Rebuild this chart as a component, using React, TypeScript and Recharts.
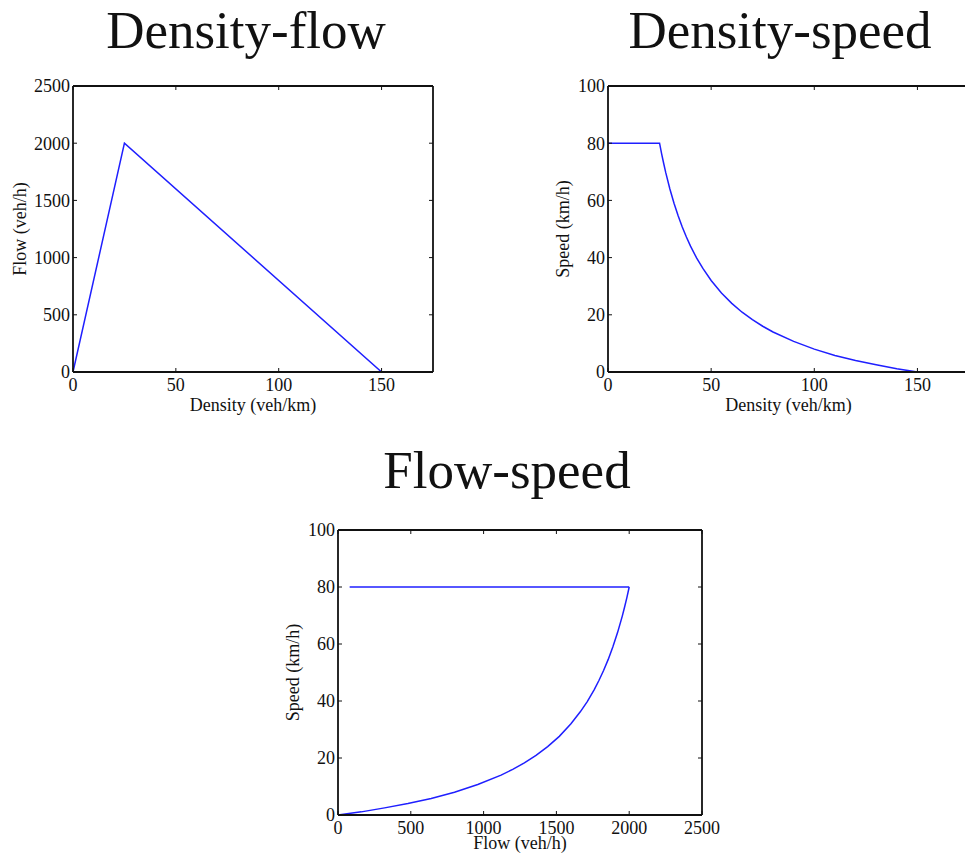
import { LineChart, Line, XAxis, YAxis } from "recharts";

// density-flow (triangular fundamental diagram)
const dfDensity = [0, 25, 150];
const dfFlow = [0, 2000, 0];

// density-speed
const dsDensity = [0, 25, 26, 27, 28, 30, 32, 34, 36, 38, 40, 43, 46, 50, 55, 60, 65, 70, 75, 80, 90, 100, 110, 120, 130, 140, 150];
const dsSpeed = [80, 80, 76.3, 72.9, 69.7, 64, 59, 54.6, 50.7, 47.2, 44, 39.8, 36.2, 32, 27.6, 24, 20.9, 18.3, 16, 14, 10.7, 8, 5.8, 4, 2.5, 1.1, 0];

// flow-speed, free-flow branch
const fsFreeFlow = [80, 2000];
const fsFreeSpeed = [80, 80];
// flow-speed, congested branch
const fsCongFlow = [2000, 1984, 1968, 1952, 1920, 1888, 1856, 1824, 1792, 1760, 1712, 1664, 1600, 1520, 1440, 1360, 1280, 1200, 1120, 960, 800, 640, 480, 320, 160, 0];
const fsCongSpeed = [80, 76.3, 72.9, 69.7, 64, 59, 54.6, 50.7, 47.2, 44, 39.8, 36.2, 32, 27.6, 24, 20.9, 18.3, 16, 14, 10.7, 8, 5.8, 4, 2.5, 1.1, 0];

const densityTicks = [0, 50, 100, 150];
const flowTicks = [0, 500, 1000, 1500, 2000, 2500];
const speedTicks = [0, 20, 40, 60, 80, 100];

const zip = (xs: number[], ys: number[]) => xs.map((x, i) => ({ x, y: ys[i] }));

const FONT = "'Liberation Serif', 'Times New Roman', serif";
const LINE = "#1f1fff";
const AXIS = "#111";
const TICK_LEN = 4;
const X_GAP = 6; // axis -> top of x tick label
const Y_GAP = 3; // axis -> right end of y tick label

// matlab-like ticks: short marks pointing into the box
const makeTick = (side: "bottom" | "left" | "top" | "right") => (props: any) => {
  const { x, y, payload } = props;
  if (side === "bottom") {
    const ay = y - X_GAP;
    return (
      <g>
        <line x1={x} y1={ay} x2={x} y2={ay - TICK_LEN} stroke={AXIS} strokeWidth={1} />
        <text x={x} y={y} dy="0.71em" textAnchor="middle" fontSize={18} fontFamily={FONT} fill="#111">
          {payload.value}
        </text>
      </g>
    );
  }
  if (side === "left") {
    const ax = x + Y_GAP;
    return (
      <g>
        <line x1={ax} y1={y} x2={ax + TICK_LEN} y2={y} stroke={AXIS} strokeWidth={1} />
        <text x={x} y={y} dy="0.35em" textAnchor="end" fontSize={18} fontFamily={FONT} fill="#111">
          {payload.value}
        </text>
      </g>
    );
  }
  if (side === "top") {
    return <line x1={x} y1={y} x2={x} y2={y + TICK_LEN} stroke={AXIS} strokeWidth={1} />;
  }
  return <line x1={x} y1={y} x2={x - TICK_LEN} y2={y} stroke={AXIS} strokeWidth={1} />;
};

const labelStyle = { fontSize: 18, fill: "#111", fontFamily: FONT };

interface PanelProps {
  series: { x: number; y: number }[][];
  xDomain: [number, number];
  yDomain: [number, number];
  xTicks: number[];
  yTicks: number[];
  xLabel: string;
  yLabel: string;
  width: number;
  height: number;
  rightMargin: number;
  yLabelOffset: number;
  xLabelOffset: number;
}

function Panel({ series, xDomain, yDomain, xTicks, yTicks, xLabel, yLabel, width, height, rightMargin, yLabelOffset, xLabelOffset }: PanelProps) {
  return (
    <LineChart width={width} height={height} margin={{ top: 9, right: rightMargin, bottom: 0, left: 0 }}>
      <XAxis
        type="number"
        dataKey="x"
        domain={xDomain}
        ticks={xTicks}
        allowDataOverflow
        height={50}
        stroke={AXIS}
        axisLine={{ stroke: AXIS, strokeWidth: 1.8 }}
        tickLine={false}
        tickSize={0}
        tickMargin={X_GAP}
        tick={makeTick("bottom")}
        label={{ value: xLabel, position: "insideBottom", offset: xLabelOffset, style: labelStyle }}
      />
      <XAxis
        xAxisId="top"
        orientation="top"
        type="number"
        dataKey="x"
        domain={xDomain}
        ticks={xTicks}
        allowDataOverflow
        height={1}
        stroke={AXIS}
        axisLine={{ stroke: AXIS, strokeWidth: 1.8 }}
        tickLine={false}
        tickSize={0}
        tickMargin={0}
        tick={makeTick("top")}
      />
      <YAxis
        type="number"
        dataKey="y"
        domain={yDomain}
        ticks={yTicks}
        allowDataOverflow
        width={73}
        stroke={AXIS}
        axisLine={{ stroke: AXIS, strokeWidth: 1.8 }}
        tickLine={false}
        tickSize={0}
        tickMargin={Y_GAP}
        tick={makeTick("left")}
        label={{ value: yLabel, angle: -90, position: "insideLeft", offset: yLabelOffset, style: { ...labelStyle, textAnchor: "middle" } }}
      />
      <YAxis
        yAxisId="right"
        orientation="right"
        type="number"
        dataKey="y"
        domain={yDomain}
        ticks={yTicks}
        allowDataOverflow
        width={1}
        stroke={AXIS}
        axisLine={{ stroke: AXIS, strokeWidth: 1.8 }}
        tickLine={false}
        tickSize={0}
        tickMargin={0}
        tick={makeTick("right")}
      />
      {series.map((d, i) => (
        <Line
          key={i}
          data={d}
          dataKey="y"
          type="linear"
          stroke={LINE}
          strokeWidth={1.5}
          dot={false}
          activeDot={false}
          isAnimationActive={false}
        />
      ))}
      {/* invisible copy tied to the top/right axes so they get a domain */}
      <Line
        data={series[0]}
        dataKey="y"
        xAxisId="top"
        yAxisId="right"
        stroke="none"
        dot={false}
        activeDot={false}
        isAnimationActive={false}
      />
    </LineChart>
  );
}

const titleStyle = (left: number, top: number, w: number) => ({
  position: "absolute" as const,
  left,
  top,
  width: w,
  textAlign: "center" as const,
  fontFamily: FONT,
  fontSize: 53,
  lineHeight: "53px",
  color: "#111",
  whiteSpace: "nowrap" as const,
});

export default function App() {
  return (
    <div style={{ position: "absolute", left: 0, top: 0, width: 965, height: 854, overflow: "hidden", background: "#fff" }}>
      <div style={titleStyle(46, 4, 400)}>Density-flow</div>
      <div style={titleStyle(580, 4, 400)}>Density-speed</div>
      <div style={titleStyle(307, 444, 400)}>Flow-speed</div>

      <div style={{ position: "absolute", left: 0, top: 76 }}>
        <Panel
          series={[zip(dfDensity, dfFlow)]}
          xDomain={[0, 175]}
          yDomain={[0, 2500]}
          xTicks={densityTicks}
          yTicks={flowTicks}
          xLabel="Density (veh/km)"
          yLabel="Flow (veh/h)"
          width={454}
          height={346}
          rightMargin={20}
          yLabelOffset={20}
          xLabelOffset={11}
        />
      </div>

      <div style={{ position: "absolute", left: 535, top: 76 }}>
        <Panel
          series={[zip(dsDensity, dsSpeed)]}
          xDomain={[0, 175]}
          yDomain={[0, 100]}
          xTicks={densityTicks}
          yTicks={speedTicks}
          xLabel="Density (veh/km)"
          yLabel="Speed (km/h)"
          width={455}
          height={346}
          rightMargin={20}
          yLabelOffset={28}
          xLabelOffset={11}
        />
      </div>

      <div style={{ position: "absolute", left: 265, top: 520 }}>
        <Panel
          series={[zip(fsFreeFlow, fsFreeSpeed), zip(fsCongFlow, fsCongSpeed)]}
          xDomain={[0, 2500]}
          yDomain={[0, 100]}
          xTicks={flowTicks}
          yTicks={speedTicks}
          xLabel="Flow (veh/h)"
          yLabel="Speed (km/h)"
          width={463}
          height={345}
          rightMargin={25}
          yLabelOffset={28}
          xLabelOffset={16}
        />
      </div>
    </div>
  );
}
